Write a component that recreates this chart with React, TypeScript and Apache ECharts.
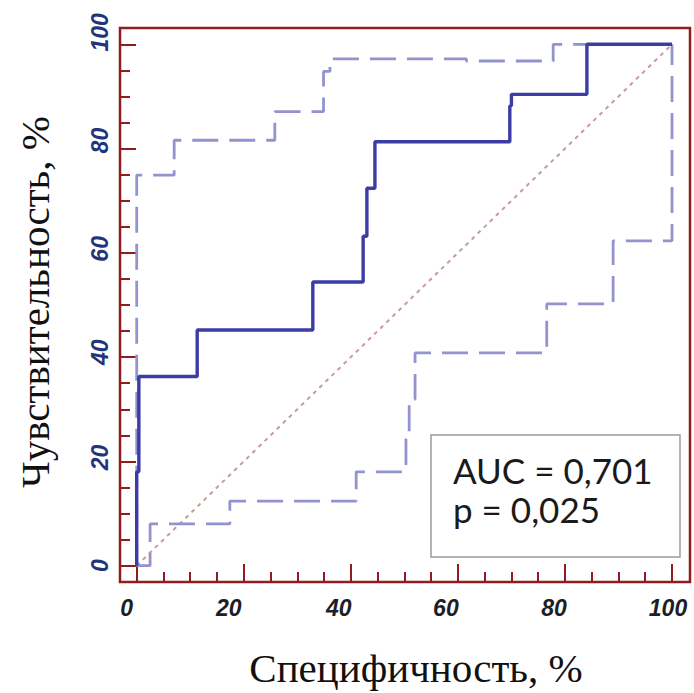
import React, { useEffect, useRef } from "react";
import * as echarts from "echarts";

// ---- data ----
const xMajorTicks = [0, 20, 40, 60, 80, 100];
const yMajorTicks = [0, 20, 40, 60, 80, 100];
const minorTicks = [5, 10, 15, 25, 30, 35, 45, 50, 55, 65, 70, 75, 85, 90, 95];

// ROC curve (solid) vertices
const rocX = [0, 0, 0.4, 0.4, 11.3, 11.3, 32.9, 32.9, 42.3, 42.3, 43.0, 43.0, 44.5, 44.5, 69.7, 69.7, 70.0, 70.0, 84.1, 84.1, 100];
const rocY = [0, 18, 18, 36.3, 36.3, 45.2, 45.2, 54.4, 54.4, 63.2, 63.2, 72.4, 72.4, 81.3, 81.3, 88.2, 88.2, 90.4, 90.4, 100, 100];

// upper confidence bound (dashed)
const upperX = [0, 0, 7.0, 7.0, 25.8, 25.8, 34.9, 34.9, 36.1, 36.1, 61.6, 61.6, 77.8, 77.8, 100];
const upperY = [0, 74.9, 74.9, 81.6, 81.6, 87.1, 87.1, 94.8, 94.8, 97.2, 97.2, 96.8, 96.8, 100, 100];

// lower confidence bound (dashed)
const lowerX = [0, 2.5, 2.5, 17.4, 17.4, 41.0, 41.0, 50.3, 50.3, 50.9, 50.9, 52.0, 52.0, 76.6, 76.6, 89.0, 89.0, 100, 100];
const lowerY = [0, 0, 8.0, 8.0, 12.4, 12.4, 18.0, 18.0, 24.3, 24.3, 31.9, 31.9, 40.8, 40.8, 50.2, 50.2, 62.3, 62.3, 100];

// reference diagonal
const diagX = [0, 100];
const diagY = [0, 100];

const xTitle = "Специфичность, %";
const yTitle = "Чувствительность, %";
const aucLine = "AUC = 0,701";
const pLine = "p = 0,025";

const zip = (xs: number[], ys: number[]) => xs.map((x, i) => [x, ys[i]]);

const FRAME = "#8f1d1d";
const XMIN = -3.12, XMAX = 103.36, YMIN = -3.13, YMAX = 103.13;

// per-label nudges (px) along the axis
const xShift: Record<number, number> = { 0: -10, 20: -15, 40: -12, 60: -12, 80: -11, 100: -4 };
const yShift: Record<number, number> = { 0: 0, 20: 4, 40: 5, 60: 4, 80: 8, 100: 12 };

export default function App() {
  const ref = useRef<HTMLDivElement>(null);
  useEffect(() => {
    if (!ref.current) return;
    const chart = echarts.init(ref.current, null, { renderer: "svg" });
    const labelFont = { fontFamily: "Liberation Sans", fontSize: 23, fontWeight: "bold" as const, fontStyle: "italic" as const };
    const xRich: any = {};
    xMajorTicks.forEach((v) => {
      const s = xShift[v] || 0;
      xRich["x" + v] = { ...labelFont, color: "#1e1e28", padding: [0, s < 0 ? -2 * s : 0, 0, s > 0 ? 2 * s : 0] };
    });
    const yRich: any = {};
    yMajorTicks.forEach((v) => {
      const s = yShift[v] || 0;
      yRich["y" + v] = { ...labelFont, color: "#22357a", padding: [0, s < 0 ? -2 * s : 0, 0, s > 0 ? 2 * s : 0] };
    });
    const option: any = {
      animation: false,
      backgroundColor: "#ffffff",
      grid: {
        left: 120, top: 28, width: 570, height: 560,
        show: true, borderColor: FRAME, borderWidth: 2.5, backgroundColor: "transparent",
        containLabel: false,
      },
      xAxis: [
        {
          type: "value", min: XMIN, max: XMAX, position: "bottom",
          axisLine: { show: false, onZero: false },
          splitLine: { show: false },
          axisTick: { show: true, inside: true, length: 18, customValues: xMajorTicks, lineStyle: { color: FRAME, width: 2 } },
          axisLabel: {
            show: true, margin: 14, customValues: xMajorTicks,
            formatter: (v: number) => `{x${Math.round(v)}|${Math.round(v)}}`,
            rich: xRich, ...labelFont, color: "#1e1e28",
          },
          name: xTitle, nameLocation: "middle", nameGap: 65,
          nameTextStyle: { fontFamily: "Liberation Serif", fontSize: 41, color: "#111", padding: [0, 0, 0, 22] },
        },
        {
          type: "value", min: XMIN, max: XMAX, position: "bottom",
          axisLine: { show: false, onZero: false }, splitLine: { show: false },
          axisTick: { show: true, inside: true, length: 10, customValues: minorTicks, lineStyle: { color: FRAME, width: 2 } },
          axisLabel: { show: false },
        },
      ],
      yAxis: [
        {
          type: "value", min: YMIN, max: YMAX, position: "left",
          axisLine: { show: false, onZero: false },
          splitLine: { show: false },
          axisTick: { show: true, inside: true, length: 16, customValues: yMajorTicks, lineStyle: { color: FRAME, width: 2 } },
          axisLabel: {
            show: true, margin: 9, rotate: 90, customValues: yMajorTicks,
            formatter: (v: number) => `{y${Math.round(v)}|${Math.round(v)}}`,
            rich: yRich, ...labelFont, color: "#22357a",
          },
          name: yTitle, nameLocation: "middle", nameGap: 65, nameRotate: 90,
          nameTextStyle: { fontFamily: "Liberation Serif", fontSize: 41, color: "#111", padding: [0, 0, 0, 6] },
        },
        {
          type: "value", min: YMIN, max: YMAX, position: "left",
          axisLine: { show: false, onZero: false }, splitLine: { show: false },
          axisTick: { show: true, inside: true, length: 10, customValues: minorTicks, lineStyle: { color: FRAME, width: 2 } },
          axisLabel: { show: false },
        },
      ],
      series: [
        {
          type: "line", data: zip(diagX, diagY), symbol: "none", silent: true,
          lineStyle: { color: "#c99a9a", width: 2, type: [4, 4.5] },
        },
        {
          type: "line", data: zip(upperX, upperY), symbol: "none", silent: true,
          lineStyle: { color: "#9393cf", width: 2.8, type: [26, 11] },
        },
        {
          type: "line", data: zip(lowerX, lowerY), symbol: "none", silent: true,
          lineStyle: { color: "#9393cf", width: 2.8, type: [26, 11] },
        },
        {
          type: "line", data: zip(rocX, rocY), symbol: "none", silent: true,
          lineStyle: { color: "#3c3ca6", width: 3.4 },
        },
      ],
      graphic: [
        {
          type: "group", z: 100,
          children: [
            { type: "rect", shape: { x: 431, y: 435, width: 249, height: 122 }, style: { fill: "#ffffff", stroke: "#9a9a9a", lineWidth: 1.5 } },
            { type: "text", x: 453, y: 470, style: { text: aucLine, font: "35px Lato", fill: "#1a1a1a", verticalAlign: "middle" } },
            { type: "text", x: 453, y: 509, style: { text: pLine, font: "35px Lato", fill: "#1a1a1a", verticalAlign: "middle" } },
          ],
        },
      ],
    };
    chart.setOption(option);
    return () => chart.dispose();
  }, []);
  return <div ref={ref} style={{ position: "fixed", left: 0, top: 0, width: 694, height: 693 }} />;
}
